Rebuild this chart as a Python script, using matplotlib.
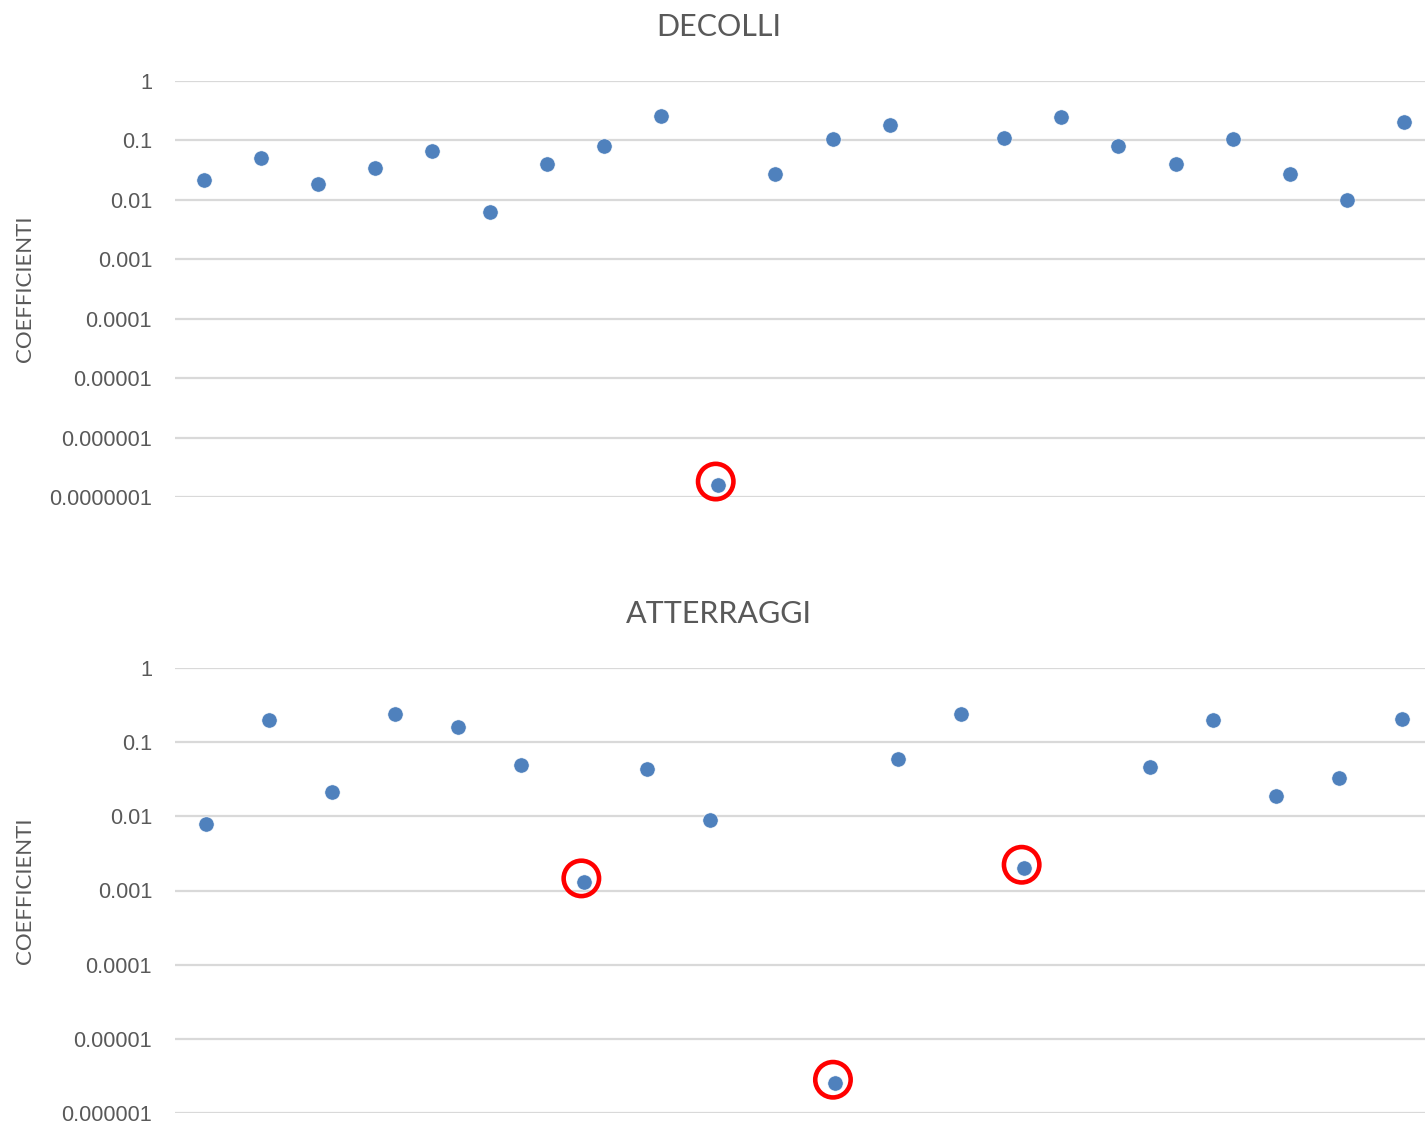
import numpy as np
import matplotlib
matplotlib.use("Agg")
import matplotlib.pyplot as plt
from matplotlib.ticker import FixedLocator, FixedFormatter, NullLocator
from matplotlib.transforms import ScaledTranslation

plt.rcParams["font.family"] = ["Liberation Sans", "DejaVu Sans"]

# Coefficients per category (NaN = no value)
decolli = [0.0218, 0.050, 0.0183, 0.0344, 0.0664, 0.00632, 0.0401, 0.0815,
           0.261, 1.59e-7, 0.0272, 0.1045, 0.180, np.nan, 0.1086, 0.248,
           0.0806, 0.0397, 0.107, 0.0269, 0.00995, 0.204]
atterraggi = [0.00783, 0.2006, 0.0211, 0.2415, 0.1588, 0.0495, 0.001306,
              0.0438, 0.00887, np.nan, 2.52e-6, 0.0602, 0.237, 0.001995,
              np.nan, 0.0466, 0.1988, 0.0190, 0.0328, 0.203]

# Flagged (outlier) category indices
decolli_flag = [9]
atterraggi_flag = [6, 10, 13]

decolli_ticks = [1, 0.1, 0.01, 0.001, 0.0001, 0.00001, 0.000001, 0.0000001]
decolli_labels = ["1", "0.1", "0.01", "0.001", "0.0001", "0.00001",
                  "0.000001", "0.0000001"]
atterraggi_ticks = [1, 0.1, 0.01, 0.001, 0.0001, 0.00001, 0.000001]
atterraggi_labels = ["1", "0.1", "0.01", "0.001", "0.0001", "0.00001",
                     "0.000001"]

TEXT = "#595959"
BLUE = "#4F81BD"
GRID = "#D9D9D9"

W, H = 1425, 1126
fig = plt.figure(figsize=(W / 100, H / 100), dpi=100)


def px_axes(left, top, right, bottom):
    return fig.add_axes([left / W, 1 - bottom / H, (right - left) / W,
                         (bottom - top) / H])


def panel(ax, values, flags, ticks, labels, title, title_y):
    x = np.arange(len(values))
    vals = np.array(values, dtype=float)
    ax.set_yscale("log")
    ax.set_xlim(-0.5, len(values) - 0.5)
    ax.set_ylim(min(ticks), max(ticks))
    ax.yaxis.set_major_locator(FixedLocator(ticks))
    ax.yaxis.set_major_formatter(FixedFormatter(labels))
    ax.yaxis.set_minor_locator(NullLocator())
    ax.xaxis.set_major_locator(NullLocator())
    ax.tick_params(axis="y", length=0, pad=16.5, labelsize=15.6,
                   labelcolor=TEXT)
    for s in ax.spines.values():
        s.set_visible(False)
    ax.grid(axis="y", color=GRID, linewidth=1.6, zorder=0)
    ax.set_axisbelow(True)
    ax.plot(x, vals, linestyle="none", marker="o", markersize=11,
            markerfacecolor=BLUE, markeredgecolor="white",
            markeredgewidth=0.4, zorder=3, clip_on=False)
    # red rings around the flagged values
    shift = ax.transData + ScaledTranslation(-2.5 / 100, 3.5 / 100,
                                             fig.dpi_scale_trans)
    ax.scatter(x[flags], vals[flags], s=650, facecolors="none",
               edgecolors="#FF0000", linewidths=3.3, zorder=4,
               transform=shift, clip_on=False)
    ax.set_ylabel("COEFFICIENTI", fontsize=16, color=TEXT, family="Lato",
                  labelpad=0)
    ax.yaxis.set_label_coords(-(175 - 35) / (ax.get_position().width * W),
                              0.5)
    fig.text(719 / W, 1 - title_y / H, title, ha="center", va="center",
             fontsize=22, color=TEXT, family="Lato")


ax1 = px_axes(175, 81, 1433, 497)
panel(ax1, decolli, decolli_flag, decolli_ticks, decolli_labels,
      "DECOLLI", 27)
ax2 = px_axes(175, 668, 1433, 1113)
panel(ax2, atterraggi, atterraggi_flag, atterraggi_ticks, atterraggi_labels,
      "ATTERRAGGI", 614)

fig.savefig("out.png", dpi=100)
